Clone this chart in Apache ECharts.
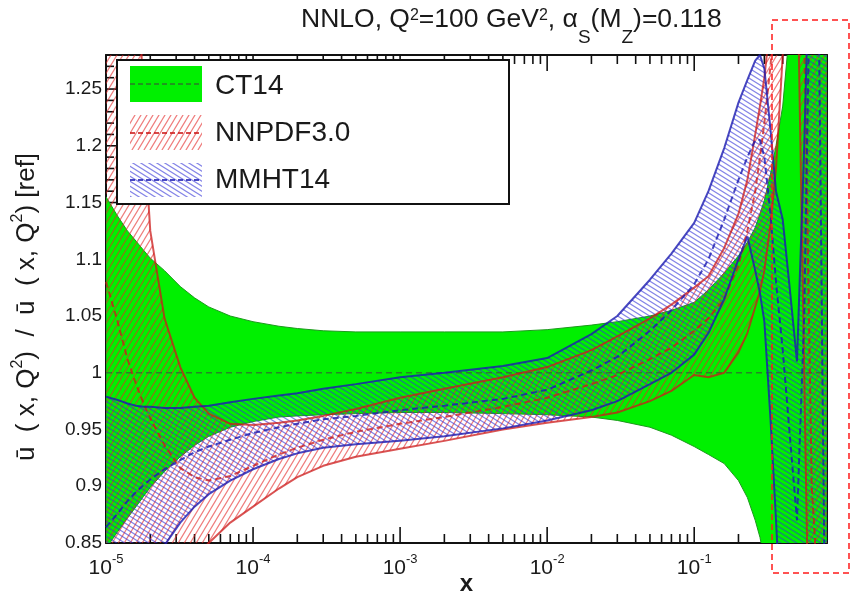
<!DOCTYPE html>
<html><head><meta charset="utf-8">
<script src="https://cdn.jsdelivr.net/npm/echarts@6/dist/echarts.min.js"></script>
<style>html,body{margin:0;padding:0;background:#fff}#c{width:853px;height:596px}</style>
</head><body><div id="c"></div>
<script>
// ---------------- data ----------------
const xValues = [1e-5,1.2e-5,1.4e-5,1.6e-5,1.8e-5,2e-5,2.5e-5,3.2e-5,4e-5,5e-5,7e-5,1e-4,1.5e-4,2e-4,3e-4,5e-4,1e-3,2e-3,5e-3,1e-2,2e-2,3e-2,5e-2,7e-2,0.1,0.125,0.16,0.2,0.23,0.26,0.28,0.3,0.33,0.36,0.4,0.45,0.5,0.56,0.63,0.7,0.8];

const ct14Upper = [1.155,1.138,1.125,1.116,1.108,1.101,1.09,1.076,1.066,1.058,1.05,1.045,1.041,1.039,1.037,1.036,1.036,1.036,1.036,1.038,1.042,1.045,1.05,1.055,1.062,1.073,1.088,1.103,1.115,1.128,1.14,1.152,1.175,1.2,1.235,1.31,1.45,1.6,1.8,2.0,2.2];
const ct14Central = [1,1,1,1,1,1,1,1,1,1,1,1,1,1,1,1,1,1,1,1,1,1,1,1,1,1,1,1,1,1,1,1,1,1,1,1,1,1,1,1,1];
const ct14Lower = [0.845,0.86,0.872,0.882,0.891,0.899,0.913,0.926,0.936,0.944,0.952,0.957,0.961,0.962,0.963,0.964,0.965,0.965,0.964,0.963,0.961,0.958,0.952,0.945,0.935,0.928,0.92,0.905,0.89,0.87,0.855,0.835,0.8,0.76,0.7,0.6,0.5,0.4,0.3,0.2,0.1];

const nnpdfUpper = [2.2,2.0,1.8,1.45,1.22,1.125,1.048,1.005,0.978,0.964,0.955,0.954,0.956,0.958,0.962,0.968,0.978,0.986,0.996,1.005,1.02,1.032,1.048,1.06,1.075,1.085,1.11,1.14,1.17,1.21,1.235,1.26,1.31,1.38,1.5,1.7,1.8,1.8,1.7,1.6,1.6];
const nnpdfCentral = [1.08,1.045,1.012,0.99,0.973,0.96,0.936,0.916,0.908,0.905,0.909,0.918,0.928,0.934,0.941,0.948,0.955,0.961,0.97,0.978,0.99,0.998,1.012,1.022,1.037,1.048,1.065,1.095,1.125,1.16,1.19,1.22,1.27,1.33,1.4,1.55,1.6,1.3,0.9,0.8,0.8];
const nnpdfLower = [0.76,0.77,0.78,0.79,0.795,0.8,0.81,0.825,0.838,0.85,0.868,0.882,0.898,0.908,0.918,0.926,0.933,0.94,0.95,0.956,0.961,0.965,0.975,0.984,0.998,0.996,1.0,1.018,1.035,1.058,1.072,1.09,1.13,1.18,1.28,1.42,1.38,1.0,0.6,0.5,0.5];

const mmhtUpper = [0.979,0.976,0.973,0.971,0.97,0.97,0.969,0.969,0.97,0.971,0.974,0.977,0.98,0.982,0.986,0.99,0.996,1.0,1.006,1.013,1.034,1.05,1.082,1.105,1.132,1.16,1.198,1.238,1.258,1.275,1.28,1.268,1.215,1.16,1.135,1.07,1.01,1.2,1.45,1.8,2.0];
const mmhtCentral = [0.864,0.876,0.887,0.895,0.901,0.906,0.915,0.923,0.93,0.935,0.941,0.947,0.952,0.955,0.959,0.962,0.967,0.971,0.977,0.985,1.002,1.014,1.037,1.055,1.078,1.1,1.135,1.17,1.19,1.205,1.205,1.19,1.14,1.08,1.02,0.94,0.87,1.05,1.45,1.35,0.6];
const mmhtLower = [0.785,0.795,0.805,0.815,0.825,0.835,0.848,0.868,0.882,0.893,0.905,0.915,0.924,0.929,0.934,0.937,0.94,0.944,0.951,0.958,0.967,0.975,0.99,1.0,1.016,1.035,1.065,1.1,1.12,1.09,1.07,1.045,0.96,0.87,0.75,0.68,0.65,0.62,0.6,0.6,0.6];

// axis ticks
const xMajorTicks = [1e-5,1e-4,1e-3,1e-2,1e-1];
const xMinorTicks = [2e-5,3e-5,4e-5,5e-5,6e-5,7e-5,8e-5,9e-5,
  2e-4,3e-4,4e-4,5e-4,6e-4,7e-4,8e-4,9e-4,
  2e-3,3e-3,4e-3,5e-3,6e-3,7e-3,8e-3,9e-3,
  2e-2,3e-2,4e-2,5e-2,6e-2,7e-2,8e-2,9e-2,
  0.2,0.3,0.4,0.5,0.6,0.7];
const yMajorTicks = [0.85,0.9,0.95,1.0,1.05,1.1,1.15,1.2,1.25];
const yMinorTicks = [0.86,0.87,0.88,0.89,0.91,0.92,0.93,0.94,0.96,0.97,0.98,0.99,1.01,1.02,1.03,1.04,1.06,1.07,1.08,1.09,1.11,1.12,1.13,1.14,1.16,1.17,1.18,1.19,1.21,1.22,1.23,1.24,1.26,1.27];
const xMax = 0.8;
const yMin = 0.85, yMax = 1.28, yStep = 0.05;
const legendNames = ['CT14','NNPDF3.0','MMHT14'];

// ---------------- styling helpers ----------------
const FONT = '"Liberation Sans", Arial, Helvetica, sans-serif';
const GREEN = '#00f000';
const INK = '#1a1a1a';

function makeHatch(color, w, h, slashUp, lw) {
  const c = document.createElement('canvas');
  c.width = w; c.height = h;
  const g = c.getContext('2d');
  g.strokeStyle = color; g.lineWidth = lw;
  g.beginPath();
  for (let dx = -1; dx <= 1; dx++) for (let dy = -1; dy <= 1; dy++) {
    const ox = dx * w, oy = dy * h;
    if (slashUp) { g.moveTo(ox, oy + h); g.lineTo(ox + w, oy); }
    else { g.moveTo(ox, oy); g.lineTo(ox + w, oy + h); }
  }
  g.stroke();
  return c;
}
const redHatch = { image: makeHatch('rgba(228,40,40,0.6)', 6, 10, true, 1.2), repeat: 'repeat' };
const blueHatch = { image: makeHatch('rgba(50,50,215,0.6)', 8, 5, false, 1.2), repeat: 'repeat' };

const pts = ys => xValues.map((x, i) => [x, ys[i]]);

function band(name, upper, lower, fill, stroke, z) {
  return {
    type: 'custom', name, z, clip: true, silent: true, animation: false,
    data: [[xValues[0], upper[0]]],
    encode: { x: 0, y: 1 },
    renderItem: (params, api) => {
      const points = [];
      for (let i = 0; i < xValues.length; i++) points.push(api.coord([xValues[i], upper[i]]));
      for (let i = xValues.length - 1; i >= 0; i--) points.push(api.coord([xValues[i], lower[i]]));
      return { type: 'polygon', shape: { points }, style: { fill, stroke: stroke || null, lineWidth: 1 } };
    }
  };
}
function line(name, ys, color, dashed, z, width, opacity) {
  return {
    type: 'line', name, data: pts(ys), symbol: 'none', z, silent: true, animation: false, clip: true,
    lineStyle: { color, width, type: dashed ? [6, 4] : 'solid', opacity: opacity }
  };
}

const legendGraphics = [
  { type: 'rect', z: 100, shape: { x: 117, y: 60, width: 392, height: 144 },
    style: { fill: '#fff', stroke: '#111', lineWidth: 2 } },
  { type: 'rect', z: 101, shape: { x: 130, y: 66, width: 72, height: 36 }, style: { fill: GREEN } },
  { type: 'line', z: 102, shape: { x1: 130, y1: 84, x2: 202, y2: 84 }, style: { stroke: '#2a7a2a', lineWidth: 1.5, lineDash: [5, 3] } },
  { type: 'rect', z: 101, shape: { x: 130, y: 115, width: 72, height: 35 }, style: { fill: redHatch } },
  { type: 'line', z: 102, shape: { x1: 130, y1: 133, x2: 202, y2: 133 }, style: { stroke: 'rgba(204,26,26,0.8)', lineWidth: 2, lineDash: [5, 3] } },
  { type: 'rect', z: 101, shape: { x: 130, y: 163, width: 72, height: 34 }, style: { fill: blueHatch } },
  { type: 'line', z: 102, shape: { x1: 130, y1: 180, x2: 202, y2: 180 }, style: { stroke: 'rgba(26,26,176,0.8)', lineWidth: 2, lineDash: [5, 3] } },
  { type: 'text', z: 102, x: 215, y: 86, style: { text: legendNames[0], fontSize: 28, fontFamily: FONT, fill: INK, verticalAlign: 'middle' } },
  { type: 'text', z: 102, x: 215, y: 133, style: { text: legendNames[1], fontSize: 28, fontFamily: FONT, fill: INK, verticalAlign: 'middle' } },
  { type: 'text', z: 102, x: 215, y: 180, style: { text: legendNames[2], fontSize: 28, fontFamily: FONT, fill: INK, verticalAlign: 'middle' } },
  { type: 'rect', z: 110, shape: { x: 772, y: 20, width: 77, height: 553 },
    style: { fill: 'none', stroke: '#ff1a1a', lineWidth: 1.5, lineDash: [6, 4] } }
];

const option = {
  animation: false,
  backgroundColor: '#fff',
  title: {
    text: '{t|NNLO, Q}{sup|2}{t|=100 GeV}{sup|2}{t|, α}{sub|S}{t|(M}{sub|Z}{t|)=0.118}',
    left: 296, top: 1,
    textStyle: {
      rich: {
        t: { fontSize: 26.5, fontWeight: 'normal', fontFamily: FONT, color: INK, lineHeight: 34, verticalAlign: 'top' },
        sup: { fontSize: 16, fontWeight: 'normal', fontFamily: FONT, color: INK, lineHeight: 16, verticalAlign: 'top', padding: [2, 0, 0, 0] },
        sub: { fontSize: 19, fontWeight: 'normal', fontFamily: FONT, color: INK, lineHeight: 19, padding: [22, 0, 0, 0], verticalAlign: 'top' }
      }
    }
  },
  grid: { left: 106, right: 26, top: 55, bottom: 53, containLabel: false, outerBoundsMode: 'none' },
  xAxis: [
    {
      type: 'log', logBase: 10, min: xValues[0], max: xMax, position: 'bottom',
      axisLine: { show: true, lineStyle: { color: '#111', width: 2 } },
      axisTick: { show: false }, minorTick: { show: false },
      splitLine: { show: false },
      axisLabel: {
        margin: 10, showMaxLabel: false,
        formatter: v => '{b|10}{s|' + Math.round(Math.log10(v)) + '}',
        rich: {
          b: { fontSize: 21, fontFamily: FONT, color: INK, lineHeight: 26, verticalAlign: 'bottom' },
          s: { fontSize: 13, fontFamily: FONT, color: INK, lineHeight: 14, verticalAlign: 'top' }
        }
      },
      name: 'x', nameLocation: 'middle', nameGap: 29, nameMoveOverlap: false,
      nameTextStyle: { fontSize: 24, fontWeight: 'bold', fontFamily: FONT, color: INK }
    },
    {
      type: 'log', logBase: 10, min: xValues[0], max: xMax, position: 'top',
      axisLine: { show: true, lineStyle: { color: '#111', width: 2 } },
      axisTick: { show: false }, axisLabel: { show: false }, splitLine: { show: false }
    }
  ],
  yAxis: [
    {
      type: 'value', min: yMin, max: yMax, interval: yStep, position: 'left',
      axisLine: { show: true, lineStyle: { color: '#111', width: 2 } },
      axisTick: { show: false }, minorTick: { show: false },
      splitLine: { show: false },
      axisLabel: { margin: 4, showMaxLabel: false, fontSize: 19, fontFamily: FONT, color: INK },
      name: '{t|ū  ( x, Q}{sup|2}{t|)  /  ū  ( x, Q}{sup|2}{t|) [ref]}',
      nameLocation: 'middle', nameRotate: 90, nameGap: 66,
      nameTextStyle: {
        padding: [0, 16, 0, 0],
        rich: {
          t: { fontSize: 26, fontFamily: FONT, color: INK, lineHeight: 30, verticalAlign: 'bottom' },
          sup: { fontSize: 16, fontFamily: FONT, color: INK, lineHeight: 16, verticalAlign: 'top' }
        }
      }
    },
    {
      type: 'value', min: yMin, max: yMax, interval: yStep, position: 'right',
      axisLine: { show: true, lineStyle: { color: '#111', width: 2 } },
      axisTick: { show: false }, minorTick: { show: false },
      splitLine: { show: false }, axisLabel: { show: false }
    }
  ],
  series: [
    band('CT14 band', ct14Upper, ct14Lower, GREEN, '#1c9a1c', 2),
    band('NNPDF3.0 band', nnpdfUpper, nnpdfLower, redHatch, null, 3),
    band('MMHT14 band', mmhtUpper, mmhtLower, blueHatch, null, 4),
    line('CT14', ct14Central, '#2a7a2a', true, 5, 1.5, 0.9),
    line('NNPDF3.0 upper', nnpdfUpper, '#cc1a1a', false, 6, 2, 0.75),
    line('NNPDF3.0 lower', nnpdfLower, '#cc1a1a', false, 6, 2, 0.75),
    line('NNPDF3.0', nnpdfCentral, '#cc1a1a', true, 6, 2, 0.75),
    line('MMHT14 upper', mmhtUpper, '#1a1ab0', false, 7, 2, 0.8),
    line('MMHT14 lower', mmhtLower, '#1a1ab0', false, 7, 2, 0.8),
    line('MMHT14', mmhtCentral, '#1a1ab0', true, 7, 2, 0.8)
  ]
};

const chart = echarts.init(document.getElementById('c'), null, { renderer: 'canvas', width: 853, height: 596 });
chart.setOption(option);

// ROOT-style inward frame ticks, positioned through the chart's own axes (drawn beneath the bands)
const tickEls = [];
const TICK = { stroke: '#111', lineWidth: 1.6 };
const yb = chart.convertToPixel({ yAxisIndex: 0 }, yMin);
const yt = chart.convertToPixel({ yAxisIndex: 0 }, yMax);
const xl = chart.convertToPixel({ xAxisIndex: 0 }, xValues[0]);
const xr = chart.convertToPixel({ xAxisIndex: 0 }, xMax);
function xTick(v, len) {
  const px = chart.convertToPixel({ xAxisIndex: 0 }, v);
  tickEls.push({ type: 'line', z: 1, silent: true, shape: { x1: px, y1: yb, x2: px, y2: yb - len }, style: TICK });
  tickEls.push({ type: 'line', z: 1, silent: true, shape: { x1: px, y1: yt, x2: px, y2: yt + len }, style: TICK });
}
function yTick(v, len) {
  const py = chart.convertToPixel({ yAxisIndex: 0 }, v);
  tickEls.push({ type: 'line', z: 1, silent: true, shape: { x1: xl, y1: py, x2: xl + len, y2: py }, style: TICK });
  tickEls.push({ type: 'line', z: 1, silent: true, shape: { x1: xr, y1: py, x2: xr - len, y2: py }, style: TICK });
}
xMajorTicks.forEach(v => xTick(v, 16));
xMinorTicks.forEach(v => xTick(v, 9));
yMajorTicks.forEach(v => yTick(v, 15));
yMinorTicks.forEach(v => yTick(v, 8));

chart.setOption({ graphic: legendGraphics.concat(tickEls) });
</script>
</body></html>
